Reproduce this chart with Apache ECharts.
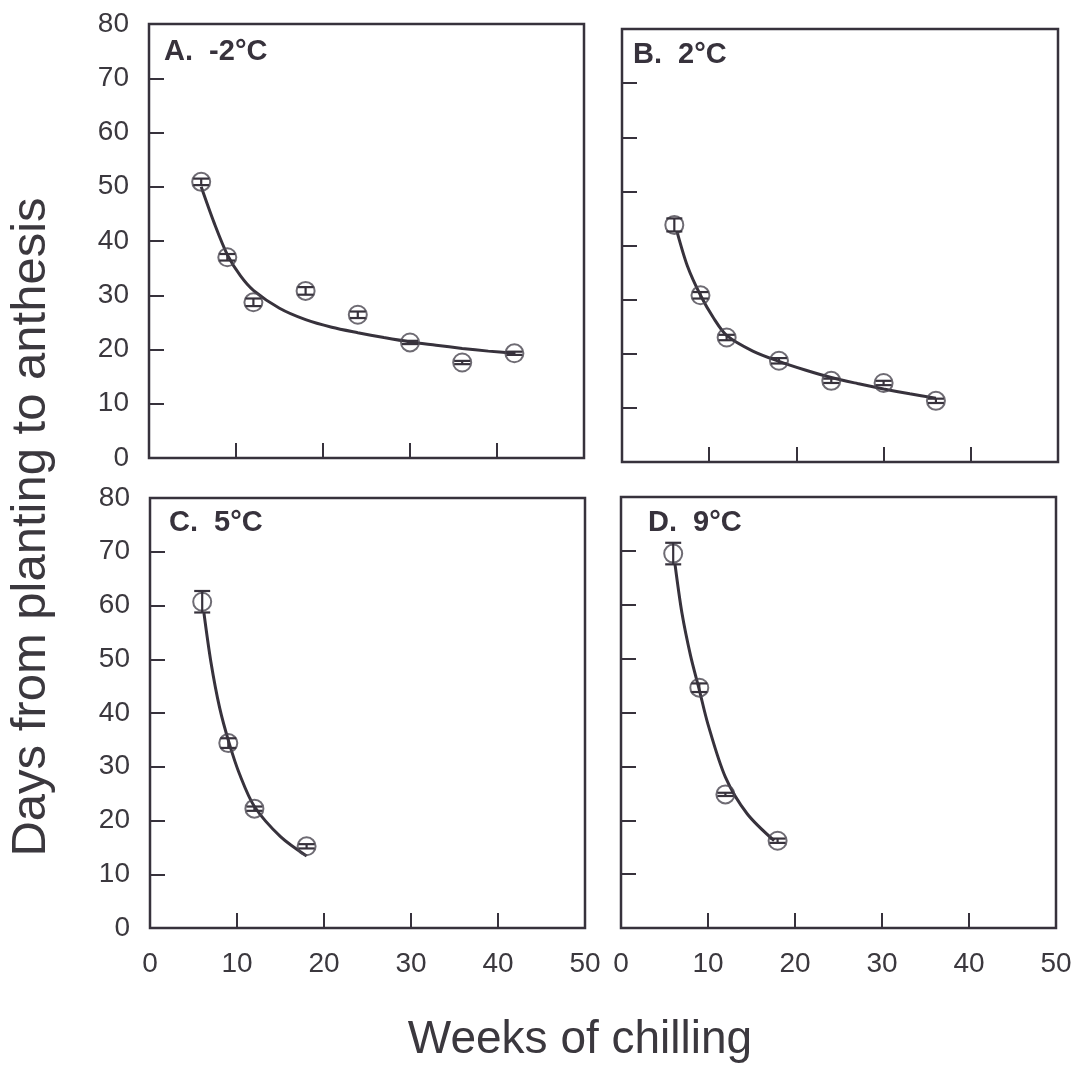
<!DOCTYPE html>
<html>
<head>
<meta charset="utf-8">
<script src="https://cdn.jsdelivr.net/npm/echarts@6/dist/echarts.min.js"></script>
<style>
  html, body { margin: 0; padding: 0; background: #fff; }
  #box { width: 1078px; height: 1072px; }
</style>
</head>
<body>
<div id="box"></div>
<script>
// ---- data ----
var xTicks = [0, 10, 20, 30, 40, 50];
var yTicks = [0, 10, 20, 30, 40, 50, 60, 70, 80];

// A. -2°C
var weeksA = [6, 9, 12, 18, 24, 30, 36, 42];
var daysA  = [50.9, 37.0, 28.7, 30.8, 26.4, 21.3, 17.6, 19.3];
var errA   = [0.6, 0.6, 0.7, 0.7, 0.6, 0.3, 0.3, 0.3];
var fitWeeksA = [6, 7.5, 9, 10.5, 12, 15, 18, 21, 24, 27, 30, 33, 36, 39, 42];
var fitDaysA  = [50, 43.3, 37.5, 33.6, 30.9, 27.6, 25.5, 24.1, 23.1, 22.2, 21.4, 20.8, 20.2, 19.7, 19.3];

// B. 2°C
var weeksB = [6, 9, 12, 18, 24, 30, 36];
var daysB  = [43.8, 30.8, 23.0, 18.7, 15.0, 14.6, 11.3];
var errB   = [1.2, 0.6, 0.5, 0.5, 0.4, 0.4, 0.4];
var fitWeeksB = [6.3, 7.5, 9, 10.5, 12, 15, 18, 21, 24, 27, 30, 33, 36];
var fitDaysB  = [42.6, 36.2, 30.8, 26.6, 23.4, 20.5, 18.6, 17.0, 15.6, 14.5, 13.5, 12.6, 11.8];

// C. 5°C
var weeksC = [6, 9, 12, 18];
var daysC  = [60.7, 34.4, 22.2, 15.2];
var errC   = [2.0, 0.9, 0.4, 0.4];
var fitWeeksC = [6.2, 7, 8, 9.1, 10.3, 12, 15, 18];
var fitDaysC  = [58.6, 49.5, 41.0, 34.4, 28.6, 22.6, 17.0, 13.4];

// D. 9°C
var weeksD = [6, 9, 12, 18];
var daysD  = [69.5, 44.6, 24.8, 16.2];
var errD   = [2.0, 0.8, 0.3, 0.4];
var fitWeeksD = [6.2, 7, 8, 9, 10, 12, 14.5, 17.6];
var fitDaysD  = [67.6, 58.5, 50.5, 44.2, 37.8, 28.0, 21.2, 16.2];

var panelTitles = ['A.  -2°C', 'B.  2°C', 'C.  5°C', 'D.  9°C'];

var ink = '#37323c';
var textInk = '#3b383e';

var myChart = echarts.init(document.getElementById('box'));

var grids = [
  {left: 149, top: 24, width: 435, height: 434},
  {left: 622, top: 29, width: 436, height: 433},
  {left: 150, top: 498, width: 435, height: 430},
  {left: 621, top: 497, width: 435, height: 431}
];
grids.forEach(function (g) {
  g.show = true;
  g.borderColor = ink;
  g.borderWidth = 2.5;
  g.backgroundColor = 'transparent';
  g.containLabel = false;
});

function xAxisFor(i, labels) {
  return {
    type: 'value', gridIndex: i, min: xTicks[0], max: xTicks[xTicks.length - 1], interval: 10,
    axisLine: {show: false},
    axisTick: {show: true, inside: true, length: 15, lineStyle: {color: ink, width: 2}},
    axisLabel: {show: labels, margin: 22, fontSize: 28, color: textInk, fontFamily: 'Liberation Sans, Arial'},
    splitLine: {show: false}
  };
}
function yAxisFor(i, labels) {
  return {
    type: 'value', gridIndex: i, min: yTicks[0], max: yTicks[yTicks.length - 1], interval: 10,
    axisLine: {show: false},
    axisTick: {show: true, inside: true, length: 15, lineStyle: {color: ink, width: 2}},
    axisLabel: {show: labels, margin: 20, fontSize: 28, color: textInk, fontFamily: 'Liberation Sans, Arial'},
    splitLine: {show: false}
  };
}

function pairs(xs, ys) {
  return xs.map(function (x, i) { return [x, ys[i]]; });
}

function fitSeries(i, xs, ys) {
  return {
    type: 'line', xAxisIndex: i, yAxisIndex: i, data: pairs(xs, ys),
    smooth: 0.3, symbol: 'none', silent: true, z: 2,
    lineStyle: {color: ink, width: 3}
  };
}
function pointSeries(i, xs, ys) {
  return {
    type: 'scatter', xAxisIndex: i, yAxisIndex: i, data: pairs(xs, ys),
    symbol: 'circle', symbolSize: 18, z: 3,
    itemStyle: {color: 'rgba(255,255,255,0)', borderColor: '#4a4650', borderWidth: 2}
  };
}
function errorSeries(i, xs, ys, es) {
  return {
    type: 'custom', xAxisIndex: i, yAxisIndex: i, z: 4,
    data: xs.map(function (x, k) { return [x, ys[k] - es[k], ys[k] + es[k]]; }),
    encode: {x: 0, y: [1, 2]},
    renderItem: function (params, api) {
      var lo = api.coord([api.value(0), api.value(1)]);
      var hi = api.coord([api.value(0), api.value(2)]);
      var hw = 8;
      var st = {stroke: ink, lineWidth: 2.2};
      return {
        type: 'group',
        children: [
          {type: 'line', shape: {x1: lo[0], y1: lo[1], x2: hi[0], y2: hi[1]}, style: st},
          {type: 'line', shape: {x1: lo[0] - hw, y1: lo[1], x2: lo[0] + hw, y2: lo[1]}, style: st},
          {type: 'line', shape: {x1: hi[0] - hw, y1: hi[1], x2: hi[0] + hw, y2: hi[1]}, style: st}
        ]
      };
    }
  };
}

var titlePos = [[164, 37], [633, 40], [169, 508], [648, 508]];

var option = {
  animation: false,
  backgroundColor: '#fff',
  title: panelTitles.map(function (t, i) {
    return {
      text: t, left: titlePos[i][0], top: titlePos[i][1], padding: 0,
      textStyle: {fontSize: 29, fontWeight: 'bold', color: ink, fontFamily: 'Liberation Sans, Arial'}
    };
  }),
  grid: grids,
  xAxis: [xAxisFor(0, false), xAxisFor(1, false), xAxisFor(2, true), xAxisFor(3, true)],
  yAxis: [yAxisFor(0, true), yAxisFor(1, false), yAxisFor(2, true), yAxisFor(3, false)],
  graphic: [
    {
      type: 'text', x: 31, y: 527, rotation: Math.PI / 2,
      style: {text: 'Days from planting to anthesis', fill: textInk, font: '49px "Liberation Sans", Arial',
              align: 'center', verticalAlign: 'middle'}
    },
    {
      type: 'text', x: 580, y: 1040,
      style: {text: 'Weeks of chilling', fill: textInk, font: '46px "Liberation Sans", Arial',
              align: 'center', verticalAlign: 'middle'}
    }
  ],
  series: [
    fitSeries(0, fitWeeksA, fitDaysA), pointSeries(0, weeksA, daysA), errorSeries(0, weeksA, daysA, errA),
    fitSeries(1, fitWeeksB, fitDaysB), pointSeries(1, weeksB, daysB), errorSeries(1, weeksB, daysB, errB),
    fitSeries(2, fitWeeksC, fitDaysC), pointSeries(2, weeksC, daysC), errorSeries(2, weeksC, daysC, errC),
    fitSeries(3, fitWeeksD, fitDaysD), pointSeries(3, weeksD, daysD), errorSeries(3, weeksD, daysD, errD)
  ]
};

myChart.setOption(option);
</script>
</body>
</html>
